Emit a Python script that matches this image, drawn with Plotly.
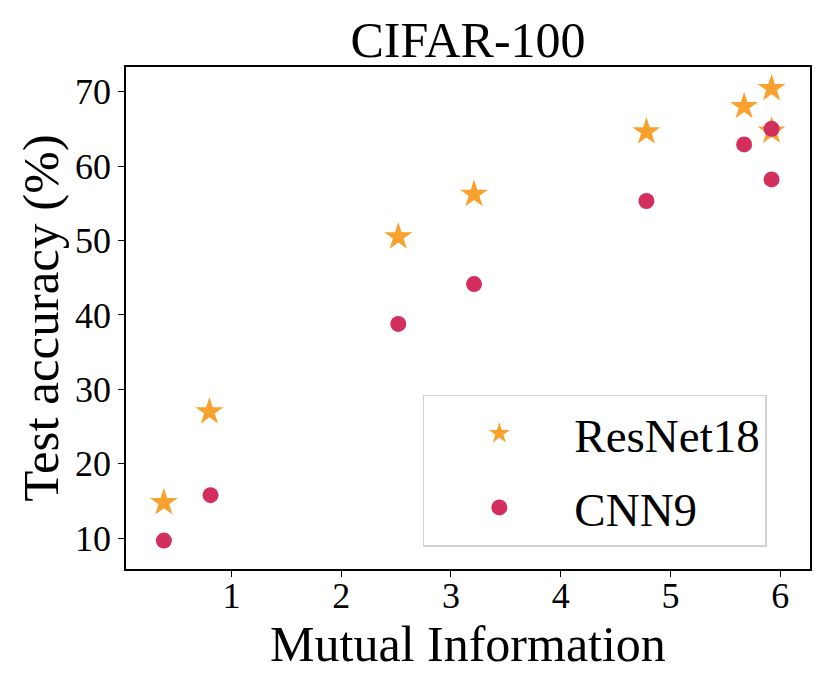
import plotly.graph_objects as go

# mutual information (x) vs test accuracy (y)
mi_resnet = [0.385, 0.80, 2.52, 3.21, 4.78, 5.67, 5.92, 5.92]
acc_resnet = [14.8, 27.0, 50.5, 56.2, 64.6, 68.0, 70.4, 64.7]

mi_cnn = [0.385, 0.81, 2.52, 3.21, 4.78, 5.67, 5.92, 5.92]
acc_cnn = [9.7, 15.8, 38.8, 44.15, 55.3, 62.9, 65.0, 58.2]

x_ticks = [1, 2, 3, 4, 5, 6]
y_ticks = [10, 20, 30, 40, 50, 60, 70]

font = 'Liberation Serif'

fig = go.Figure()
fig.add_trace(go.Scatter(
    x=mi_resnet, y=acc_resnet, mode='markers', name='ResNet18', legendgroup='a',
    marker=dict(symbol='star', size=21, color='#F9A12E', line=dict(width=0)),
))
fig.add_trace(go.Scatter(
    x=mi_cnn, y=acc_cnn, mode='markers', name='CNN9', legendgroup='b',
    marker=dict(symbol='circle', size=16, color='#D22F5F', line=dict(width=0)),
))

axis_style = dict(
    showgrid=False, zeroline=False, automargin=False,
    showline=True, linecolor='black', linewidth=1.6, mirror=True,
    ticks='outside', ticklen=6, tickwidth=1.4, tickcolor='black',
    tickfont=dict(family=font, size=36, color='black'),
)

# the page body adds 8px, so margins are 8px smaller than the target positions
fig.update_layout(
    width=830, height=692,
    margin=dict(l=118, r=28, t=59, b=131),
    paper_bgcolor='white', plot_bgcolor='white',
    font=dict(family=font, color='black'),
    title=dict(text='CIFAR-100', x=0.5, xref='paper', y=1 - 31 / 692, yref='container',
               yanchor='middle', font=dict(family=font, size=50, color='black')),
    xaxis=dict(range=[0.04, 6.27], tickvals=x_ticks, ticklabelstandoff=-12,
               title=dict(text='Mutual Information', font=dict(family=font, size=50), standoff=3),
               **axis_style),
    yaxis=dict(range=[5.88, 73.3], tickvals=y_ticks,
               title=dict(text='Test accuracy (%)', font=dict(family=font, size=51), standoff=0),
               **axis_style),
    legend=dict(x=0.434, y=0.347, xanchor='left', yanchor='top',
                bgcolor='rgba(255,255,255,0.8)', bordercolor='#d0d0d0', borderwidth=1.5,
                font=dict(family=font, size=47, color='black'),
                itemwidth=140, traceorder='grouped', tracegroupgap=10),
    showlegend=True,
)

fig.write_html('out.html')
